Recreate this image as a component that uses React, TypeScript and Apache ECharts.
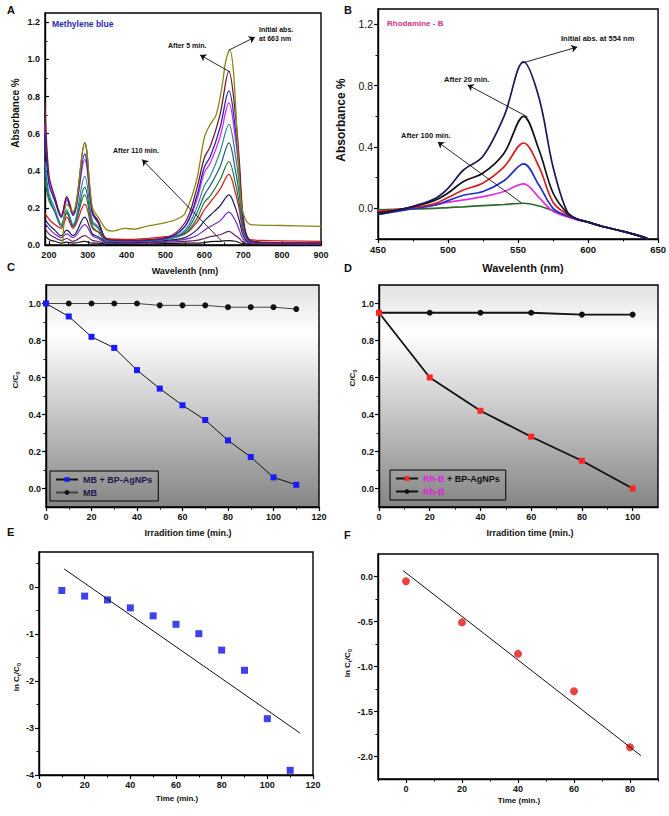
import React, { useEffect, useRef } from 'react';
import * as echarts from 'echarts';

// ---------- Panel A: Methylene blue spectra ----------
const WL_A = [190, 200, 215, 232, 246, 262, 292, 312, 327, 350, 400, 500, 550, 580, 600, 615, 640, 663, 680, 690, 700, 715, 750, 900];
const A_5MIN = [0.77, 0.38, 0.26, 0.16, 0.26, 0.17, 0.55, 0.18, 0.13, 0.03, 0.025, 0.04, 0.12, 0.3, 0.47, 0.53, 0.7, 0.935, 0.7, 0.45, 0.15, 0.03, 0.015, 0.01];
const A_BLUE = [0.6, 0.33, 0.24, 0.15, 0.25, 0.16, 0.49, 0.17, 0.12, 0.03, 0.022, 0.035, 0.1, 0.26, 0.42, 0.475, 0.63, 0.83, 0.62, 0.4, 0.13, 0.025, 0.013, 0.01];
const A_MAGENTA = [0.65, 0.35, 0.25, 0.15, 0.24, 0.16, 0.46, 0.17, 0.12, 0.03, 0.022, 0.035, 0.1, 0.24, 0.39, 0.44, 0.58, 0.765, 0.57, 0.37, 0.12, 0.025, 0.013, 0.01];
const A_TEAL = [0.45, 0.28, 0.2, 0.11, 0.19, 0.11, 0.37, 0.13, 0.1, 0.025, 0.02, 0.03, 0.08, 0.2, 0.32, 0.37, 0.5, 0.65, 0.48, 0.32, 0.1, 0.02, 0.012, 0.01];
const A_DKTEAL = [0.4, 0.26, 0.18, 0.1, 0.17, 0.1, 0.31, 0.12, 0.09, 0.02, 0.018, 0.03, 0.07, 0.17, 0.27, 0.32, 0.42, 0.55, 0.4, 0.27, 0.09, 0.02, 0.012, 0.01];
const A_GREEN = [0.35, 0.24, 0.18, 0.11, 0.18, 0.1, 0.27, 0.1, 0.07, 0.02, 0.018, 0.03, 0.06, 0.14, 0.23, 0.265, 0.35, 0.45, 0.33, 0.22, 0.075, 0.02, 0.012, 0.01];
const A_RED = [0.17, 0.14, 0.11, 0.09, 0.15, 0.09, 0.22, 0.09, 0.07, 0.035, 0.03, 0.045, 0.06, 0.12, 0.19, 0.23, 0.3, 0.38, 0.28, 0.19, 0.07, 0.03, 0.025, 0.02];
const A_NAVY = [0.14, 0.11, 0.08, 0.05, 0.08, 0.05, 0.15, 0.06, 0.045, 0.015, 0.012, 0.025, 0.04, 0.08, 0.13, 0.16, 0.21, 0.27, 0.2, 0.13, 0.05, 0.015, 0.01, 0.008];
const A_VIOLET = [0.12, 0.09, 0.06, 0.04, 0.06, 0.04, 0.11, 0.05, 0.035, 0.01, 0.01, 0.02, 0.03, 0.05, 0.08, 0.1, 0.13, 0.177, 0.13, 0.08, 0.03, 0.012, 0.008, 0.006];
const A_PURPLE = [0.09, 0.06, 0.04, 0.025, 0.035, 0.02, 0.05, 0.025, 0.02, 0.008, 0.008, 0.015, 0.02, 0.025, 0.035, 0.045, 0.055, 0.073, 0.05, 0.035, 0.015, 0.008, 0.006, 0.005];
const A_110MIN = [0.05, 0.03, 0.02, 0.01, 0.015, 0.01, 0.02, 0.01, 0.01, 0.005, 0.005, 0.008, 0.01, 0.01, 0.013, 0.018, 0.02, 0.024, 0.02, 0.012, 0.008, 0.005, 0.004, 0.003];
const WL_A_INITIAL = [236, 246, 262, 292, 312, 327, 350, 365, 395, 420, 450, 500, 530, 550, 580, 600, 615, 630, 645, 655, 665, 675, 685, 695, 705, 720, 800, 900];
const A_INITIAL = [0.0, 0.22, 0.18, 0.55, 0.2, 0.15, 0.08, 0.075, 0.09, 0.085, 0.1, 0.12, 0.14, 0.17, 0.35, 0.58, 0.65, 0.7, 0.85, 0.99, 1.05, 0.93, 0.55, 0.22, 0.14, 0.11, 0.105, 0.1];
const A_X_TICKS = [200, 300, 400, 500, 600, 700, 800, 900];
const A_X_MINOR = [250, 350, 450, 550, 650, 750, 850];
const A_Y_TICKS = [0, 0.2, 0.4, 0.6, 0.8, 1.0, 1.2];
const A_Y_MINOR = [0.1, 0.3, 0.5, 0.7, 0.9, 1.1];
const A_ARROWS = [
  [[663, 1.05], [730, 1.12]],
  [[666, 0.932], [589, 1.024]],
  [[645, 0.02], [440, 0.46]],
];

// ---------- Panel B: Rhodamine-B spectra ----------
const WL_B = [450, 470, 490, 500, 511, 525, 540, 554, 565, 575, 585, 592, 600, 611, 625, 635, 643];
const B_INITIAL = [-0.04, 0.0, 0.06, 0.13, 0.25, 0.34, 0.6, 0.955, 0.72, 0.27, -0.02, -0.07, -0.09, -0.12, -0.15, -0.175, -0.2];
const B_20MIN = [-0.03, 0.0, 0.05, 0.1, 0.175, 0.23, 0.36, 0.6, 0.38, 0.1, -0.03, -0.07, -0.09, -0.12, -0.15, -0.175, -0.2];
const B_RED = [-0.02, 0.0, 0.03, 0.07, 0.12, 0.165, 0.27, 0.426, 0.27, 0.04, -0.04, -0.07, -0.09, -0.12, -0.15, -0.175, -0.2];
const B_BLUE = [-0.04, -0.01, 0.02, 0.05, 0.085, 0.11, 0.18, 0.29, 0.15, 0.0, -0.05, -0.07, -0.09, -0.12, -0.15, -0.175, -0.2];
const B_MAGENTA = [-0.02, -0.005, 0.02, 0.04, 0.055, 0.076, 0.11, 0.16, 0.07, -0.02, -0.055, -0.075, -0.09, -0.12, -0.15, -0.175, -0.2];
const B_100MIN = [-0.01, -0.005, 0.0, 0.005, 0.01, 0.018, 0.025, 0.033, 0.015, -0.015, -0.05, -0.07, -0.09, -0.12, -0.15, -0.175, -0.2];
const B_X_TICKS = [450, 500, 550, 600, 650];
const B_X_MINOR = [475, 525, 575, 625];
const B_Y_TICKS = [0, 0.4, 0.8, 1.2];
const B_Y_MINOR = [-0.2, 0.2, 0.6, 1.0];
const B_ARROWS = [
  [[553.2, 0.948], [592.3, 1.052]],
  [[556.8, 0.596], [514, 0.805]],
  [[552.5, 0.035], [492.7, 0.433]],
];

// ---------- Panel C: MB degradation ----------
const C_TIME = [0, 10, 20, 30, 40, 50, 60, 70, 80, 90, 100, 110];
const C_MB_AG = [1.0, 0.93, 0.82, 0.76, 0.64, 0.54, 0.45, 0.37, 0.26, 0.17, 0.06, 0.02];
const C_MB = [1.0, 1.0, 1.0, 1.0, 1.0, 0.99, 0.99, 0.99, 0.98, 0.98, 0.98, 0.97];
const C_X_TICKS = [0, 20, 40, 60, 80, 100, 120];
const C_X_MINOR = [10, 30, 50, 70, 90, 110];
const CD_Y_TICKS = [0, 0.2, 0.4, 0.6, 0.8, 1.0];
const CD_Y_MINOR = [0.1, 0.3, 0.5, 0.7, 0.9];

// ---------- Panel D: Rh-B degradation ----------
const D_TIME = [0, 20, 40, 60, 80, 100];
const D_RHB_AG = [0.95, 0.6, 0.42, 0.28, 0.15, 0.0];
const D_RHB = [0.95, 0.95, 0.95, 0.95, 0.94, 0.94];
const D_X_TICKS = [0, 20, 40, 60, 80, 100];
const D_X_MINOR = [10, 30, 50, 70, 90];

// ---------- Panel E: ln(Ct/C0) MB ----------
const E_TIME = [10, 20, 30, 40, 50, 60, 70, 80, 90, 100, 110];
const E_LN = [-0.07, -0.19, -0.27, -0.44, -0.61, -0.79, -0.99, -1.34, -1.77, -2.8, -3.9];
const E_FIT = [[11, 0.39], [114.4, -3.11]];
const E_X_TICKS = [0, 20, 40, 60, 80, 100, 120];
const E_X_MINOR = [10, 30, 50, 70, 90, 110];
const E_Y_TICKS = [-4, -3, -2, -1, 0];
const E_Y_MINOR = [-3.5, -2.5, -1.5, -0.5, 0.5];

// ---------- Panel F: ln(Ct/C0) Rh-B ----------
const F_TIME = [0, 20, 40, 60, 80];
const F_LN = [-0.052, -0.51, -0.86, -1.275, -1.897];
const F_FIT = [[-1.1, 0.067], [83.9, -1.99]];
const F_X_TICKS = [0, 20, 40, 60, 80];
const F_X_MINOR = [-10, 10, 30, 50, 70, 90];
const F_Y_TICKS = [-2, -1.5, -1, -0.5, 0];
const F_Y_MINOR = [-1.75, -1.25, -0.75, -0.25];

const FONT = '"Liberation Sans", Arial, Helvetica, sans-serif';

const pairs = (xs: number[], ys: number[]) => xs.map((x, i) => [x, ys[i]]);

function axes(dim: 'x' | 'y', grid: number, min: number, max: number, ticks: number[], minor: number[], fmt: (v: number) => string, o: any = {}) {
  const position = dim === 'x' ? 'bottom' : 'left';
  const main = {
    type: 'value', gridIndex: grid, min, max, position,
    axisLine: { show: true, onZero: false, lineStyle: { color: '#000', width: 1.4 } },
    axisTick: { show: true, inside: !!o.inside, length: 4, customValues: ticks, lineStyle: { color: '#000', width: 1.2 } },
    axisLabel: {
      show: true, customValues: ticks, formatter: fmt, fontSize: o.fs ?? 9, fontWeight: o.fw ?? 'bold',
      color: '#111', fontFamily: FONT, margin: o.margin ?? 5,
    },
    splitLine: { show: false },
  };
  const mn = {
    type: 'value', gridIndex: grid, min, max, position,
    axisLine: { show: false, onZero: false },
    axisTick: { show: true, inside: !!o.inside, length: 2.5, customValues: minor, lineStyle: { color: '#000', width: 1 } },
    axisLabel: { show: false },
    splitLine: { show: false },
  };
  return [main, mn];
}

const f1 = (v: number) => v.toFixed(1);
const f0 = (v: number) => String(Math.round(v));

export default function App() {
  const ref = useRef<HTMLDivElement>(null);
  useEffect(() => {
    document.body.style.margin = '0';
    const chart = echarts.init(ref.current!, undefined, { renderer: 'svg' });

    const grad = () => new echarts.graphic.LinearGradient(0, 0, 0, 1, [
      { offset: 0, color: '#e2e2e2' },
      { offset: 0.22, color: '#ffffff' },
      { offset: 1, color: '#858585' },
    ]);
    const gridBase = { show: true, borderColor: '#000', borderWidth: 1.4, containLabel: false };
    const grids = [
      { ...gridBase, left: 45, top: 13, width: 276, height: 232 },
      { ...gridBase, left: 378, top: 9, width: 281, height: 230 },
      { ...gridBase, left: 46, top: 285, width: 273, height: 222, backgroundColor: grad() },
      { ...gridBase, left: 379, top: 285, width: 279, height: 222, backgroundColor: grad() },
      { ...gridBase, left: 39, top: 552, width: 274, height: 223 },
      { ...gridBase, left: 378, top: 554, width: 280, height: 225 },
    ];

    const xAxis = [
      ...axes('x', 0, 190, 900, A_X_TICKS, A_X_MINOR, f0, { inside: true }),
      ...axes('x', 1, 450, 650, B_X_TICKS, B_X_MINOR, f0, { fs: 9.5 }),
      ...axes('x', 2, 0, 120, C_X_TICKS, C_X_MINOR, f0),
      ...axes('x', 3, 0, 110, D_X_TICKS, D_X_MINOR, f0),
      ...axes('x', 4, 0, 120, E_X_TICKS, E_X_MINOR, f0),
      ...axes('x', 5, -10, 90, F_X_TICKS, F_X_MINOR, f0),
    ];
    const yAxis = [
      ...axes('y', 0, 0, 1.25, A_Y_TICKS, A_Y_MINOR, f1, { inside: true }),
      ...axes('y', 1, -0.2, 1.3, B_Y_TICKS, B_Y_MINOR, f1, { fs: 10.5, fw: 'normal' }),
      ...axes('y', 2, -0.1, 1.1, CD_Y_TICKS, CD_Y_MINOR, f1),
      ...axes('y', 3, -0.1, 1.1, CD_Y_TICKS, CD_Y_MINOR, f1),
      ...axes('y', 4, -4, 0.75, E_Y_TICKS, E_Y_MINOR, f0),
      ...axes('y', 5, -2.25, 0.25, F_Y_TICKS, F_Y_MINOR, f1),
    ];

    const arrowLine = (arrows: number[][][]) => ({
      silent: true,
      symbol: ['none', 'arrow'],
      symbolSize: 6,
      label: { show: false },
      lineStyle: { color: '#111', width: 0.9, type: 'solid' },
      emphasis: { disabled: true },
      data: arrows.map(([a, b]) => [{ coord: a }, { coord: b }]),
    });

    const spec = (g: number, name: string, xs: number[], ys: number[], color: string, width: number, extra: any = {}) => ({
      type: 'line', name, xAxisIndex: g * 2, yAxisIndex: g * 2, data: pairs(xs, ys),
      showSymbol: false, symbol: 'none', smooth: 0.35, silent: true,
      lineStyle: { color, width }, itemStyle: { color }, z: 3, ...extra,
    });

    const seriesA = [
      spec(0, 'a110', WL_A, A_110MIN, '#111111', 1.2),
      spec(0, 'aPurple', WL_A, A_PURPLE, '#6f1f5f', 1.2),
      spec(0, 'aViolet', WL_A, A_VIOLET, '#7a2ad2', 1.2),
      spec(0, 'aNavy', WL_A, A_NAVY, '#1b1b5c', 1.2),
      spec(0, 'aRed', WL_A, A_RED, '#d42020', 1.3),
      spec(0, 'aGreen', WL_A, A_GREEN, '#217a32', 1.2),
      spec(0, 'aDkTeal', WL_A, A_DKTEAL, '#1f5e78', 1.2),
      spec(0, 'aTeal', WL_A, A_TEAL, '#2a8a88', 1.2),
      spec(0, 'aMagenta', WL_A, A_MAGENTA, '#e028e0', 1.3),
      spec(0, 'aBlue', WL_A, A_BLUE, '#2222d0', 1.3),
      spec(0, 'a5', WL_A, A_5MIN, '#6e1c2c', 1.3),
      spec(0, 'aInit', WL_A_INITIAL, A_INITIAL, '#878714', 1.3, { markLine: arrowLine(A_ARROWS) }),
    ];
    const seriesB = [
      spec(1, 'b100', WL_B, B_100MIN, '#2a6a2a', 1.7),
      spec(1, 'bMagenta', WL_B, B_MAGENTA, '#e030e0', 1.7),
      spec(1, 'bBlue', WL_B, B_BLUE, '#2030c8', 1.7),
      spec(1, 'bRed', WL_B, B_RED, '#d42020', 1.7),
      spec(1, 'b20', WL_B, B_20MIN, '#111111', 1.7),
      spec(1, 'bInit', WL_B, B_INITIAL, '#1a1a5a', 1.7, { markLine: arrowLine(B_ARROWS) }),
    ];

    const seriesC = [
      {
        type: 'line', name: 'MB', xAxisIndex: 4, yAxisIndex: 4, data: pairs(C_TIME, C_MB),
        symbol: 'circle', symbolSize: 6, lineStyle: { color: '#444', width: 1 }, itemStyle: { color: '#111' }, silent: true, z: 4,
      },
      {
        type: 'line', name: 'MB + BP-AgNPs', xAxisIndex: 4, yAxisIndex: 4, data: pairs(C_TIME, C_MB_AG),
        symbol: 'rect', symbolSize: 6, lineStyle: { color: '#111', width: 1 }, itemStyle: { color: '#1a1aff' }, silent: true, z: 5,
      },
    ];
    const seriesD = [
      {
        type: 'line', name: 'Rh-B', xAxisIndex: 6, yAxisIndex: 6, data: pairs(D_TIME, D_RHB),
        symbol: 'circle', symbolSize: 6, lineStyle: { color: '#111', width: 1.8 }, itemStyle: { color: '#111' }, silent: true, z: 4,
      },
      {
        type: 'line', name: 'Rh-B + BP-AgNPs', xAxisIndex: 6, yAxisIndex: 6, data: pairs(D_TIME, D_RHB_AG),
        symbol: 'rect', symbolSize: 6, lineStyle: { color: '#111', width: 1.8 }, itemStyle: { color: '#ff2626' }, silent: true, z: 5,
      },
    ];
    const seriesE = [
      { type: 'line', name: 'eFit', xAxisIndex: 8, yAxisIndex: 8, data: E_FIT, symbol: 'none', lineStyle: { color: '#111', width: 1 }, silent: true },
      { type: 'scatter', name: 'eData', xAxisIndex: 8, yAxisIndex: 8, data: pairs(E_TIME, E_LN), symbol: 'rect', symbolSize: 7, itemStyle: { color: '#1212e6' }, silent: true },
    ];
    const seriesF = [
      { type: 'line', name: 'fFit', xAxisIndex: 10, yAxisIndex: 10, data: F_FIT, symbol: 'none', lineStyle: { color: '#111', width: 1 }, silent: true },
      { type: 'scatter', name: 'fData', xAxisIndex: 10, yAxisIndex: 10, data: pairs(F_TIME, F_LN), symbol: 'circle', symbolSize: 8, itemStyle: { color: '#e61414' }, silent: true },
    ];

    const txt = (x: number, y: number, text: string, fontSize: number, extra: any = {}, align = 'left') => ({
      type: 'text', x, y, silent: true,
      style: { text, fontSize, fontWeight: 'bold', fontFamily: FONT, fill: '#111', align, verticalAlign: 'middle', ...extra },
    });
    const vtxt = (x: number, y: number, text: string, fontSize: number, rich?: any) => ({
      type: 'text', x, y, rotation: Math.PI / 2, silent: true,
      style: { text, fontSize, fontWeight: 'bold', fontFamily: FONT, fill: '#111', align: 'center', verticalAlign: 'middle', rich },
    });
    const subRich = {
      n: { fontSize: 8, fontWeight: 'bold', fontFamily: FONT, fill: '#111', lineHeight: 12, verticalAlign: 'middle' },
      s: { fontSize: 6, fontWeight: 'bold', fontFamily: FONT, fill: '#111', lineHeight: 6, verticalAlign: 'bottom' },
    };

    const graphic = [
      txt(7, 10, 'A', 11), txt(344, 10, 'B', 11), txt(7, 267, 'C', 11),
      txt(344, 268, 'D', 11), txt(7, 532, 'E', 11), txt(344, 535, 'F', 11),
      txt(52, 24, 'Methylene blue', 8.5, { fill: '#2b2bb5' }),
      txt(259, 29, 'Initial abs.', 7), txt(259, 38, 'at 663 nm', 7),
      txt(168, 45, 'After 5 min.', 7), txt(113, 150, 'After 110 min.', 7),
      txt(185, 271, 'Wavelenth (nm)', 9, {}, 'center'),
      vtxt(15, 113, 'Absorbance %', 10),
      txt(387, 23, 'Rhodamine - B', 8, { fill: '#d6338a' }),
      txt(561, 38, 'Initial abs. at 554 nm', 7.5),
      txt(444, 79, 'After 20 min.', 7.5), txt(401, 135, 'After 100 min.', 7.5),
      txt(523, 268, 'Wavelenth (nm)', 11, {}, 'center'),
      vtxt(341, 120, 'Absorbance %', 12),
      txt(188, 533, 'Irradition time (min.)', 9, {}, 'center'),
      vtxt(15, 380, '{n|C/C}{s|0}', 8, subRich),
      txt(530, 533, 'Irradition time (min.)', 9, {}, 'center'),
      vtxt(352, 378, '{n|C/C}{s|0}', 8, subRich),
      txt(177, 798, 'Time (min.)', 8, {}, 'center'),
      vtxt(16, 677, '{n|ln C}{s|t}{n|/C}{s|0}', 8, subRich),
      txt(519, 800, 'Time (min.)', 8, {}, 'center'),
      vtxt(347, 663, '{n|ln C}{s|t}{n|/C}{s|0}', 8, subRich),
    ];

    const legendBase = {
      orient: 'vertical', itemWidth: 22, itemHeight: 6, itemGap: 4, padding: [4, 6, 4, 5],
      borderColor: '#000', borderWidth: 1, backgroundColor: 'transparent', selectedMode: false,
      itemStyle: { borderWidth: 0 },
      textStyle: { fontSize: 9, fontWeight: 'bold', color: '#1a1a4a', fontFamily: FONT },
    };

    chart.setOption({
      animation: false,
      backgroundColor: '#fff',
      grid: grids,
      xAxis, yAxis,
      legend: [
        { ...legendBase, left: 50, top: 471, data: ['MB + BP-AgNPs', 'MB'] },
        {
          ...legendBase, left: 390, top: 470, data: ['Rh-B + BP-AgNPs', 'Rh-B'],
          textStyle: {
            fontSize: 9, fontWeight: 'bold', color: '#111', fontFamily: FONT,
            rich: { m: { fontSize: 9, fontWeight: 'bold', color: '#e020e0', fontFamily: FONT } },
          },
          formatter: (name: string) => name === 'Rh-B' ? '{m|Rh-B}' : '{m|Rh-B} + BP-AgNPs',
        },
      ],
      series: [...seriesA, ...seriesB, ...seriesC, ...seriesD, ...seriesE, ...seriesF],
      graphic,
    });
    return () => chart.dispose();
  }, []);
  return <div ref={ref} style={{ width: 669, height: 816 }} />;
}
